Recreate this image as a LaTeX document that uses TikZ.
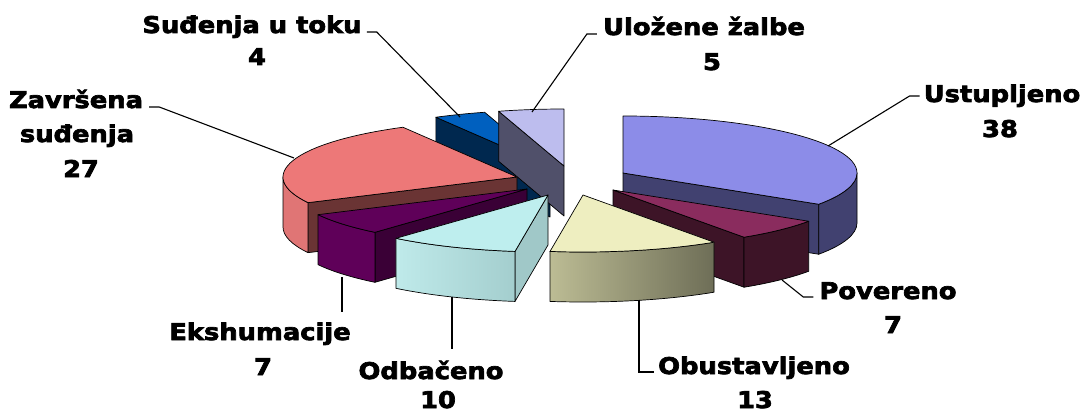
\documentclass[tikz,border=0pt]{standalone}
\usepackage{fontspec}
\usepackage{tikz}
\usetikzlibrary{positioning}
\newfontfamily\lblfont[FakeStretch=1.12, FakeBold=3]{DejaVu Sans}

\definecolor{ustTop}{HTML}{8C8CE8}
\definecolor{ustSide}{HTML}{414170}
\definecolor{povTop}{HTML}{8A2C5E}
\definecolor{povSide}{HTML}{3D1427}
\definecolor{obuTop}{HTML}{EEEEC0}
\definecolor{obuLight}{HTML}{BCBC94}
\definecolor{obuDark}{HTML}{6E6E57}
\definecolor{odbTop}{HTML}{BEEEEE}
\definecolor{odbLight}{HTML}{BFEAEA}
\definecolor{odbDark}{HTML}{9CC6C6}
\definecolor{odbFace}{HTML}{A0C8C8}
\definecolor{eksTop}{HTML}{5F0059}
\definecolor{eksFace}{HTML}{3A0036}
\definecolor{zavTop}{HTML}{ED7878}
\definecolor{zavSide}{HTML}{E07575}
\definecolor{zavFace}{HTML}{6A3434}
\definecolor{sudTop}{HTML}{0060BF}
\definecolor{sudFace}{HTML}{00284F}
\definecolor{uloTop}{HTML}{BDBDEE}
\definecolor{uloFace}{HTML}{50506A}

\tikzset{
  pie edge/.style={draw=black, line width=0.7pt, line join=round},
  pie r/.style={x radius=234, y radius=57},
  lbl/.style={font=\lblfont\bfseries\fontsize{23}{27}\selectfont, inner sep=1pt,
    text height=16pt, text depth=3pt, anchor=base},
  leader/.style={draw=black, line width=1.1pt},
}

\begin{document}
\begin{tikzpicture}[x=1pt,y=1pt]
    \useasboundingbox (0,0) rectangle (1083,413);

    % slice apexes (each slice pulled out on its own)
    \coordinate (sud-c) at (550,246);
    \coordinate (ulo-c) at (564,247);
    \coordinate (ust-c) at (623,240);
    \coordinate (zav-c) at (517,236);
    \coordinate (pov-c) at (613,223);
    \coordinate (eks-c) at (527,224);
    \coordinate (odb-c) at (548,218);
    \coordinate (obu-c) at (583,218);

    % Sudjenja u toku 4 : 119.2 .. 106.2
    \draw[pie edge, fill=sudFace] (sud-c) -- ++(119.189:234 and 57) -- ++(0,-50) -- ++(-60.811:234 and 57) -- cycle;
    \draw[pie edge, fill=sudTop] (sud-c) -- ++(119.189:234 and 57) arc[pie r, start angle=119.189, end angle=106.216] -- cycle;

    % Ulozene zalbe 5 : 106.2 .. 90
    \draw[pie edge, fill=uloFace] (ulo-c) -- ++(106.216:234 and 57) -- ++(0,-50) -- ++(-73.784:234 and 57) -- cycle;
    \draw[pie edge, fill=uloTop] (ulo-c) -- ++(106.216:234 and 57) arc[pie r, start angle=106.216, end angle=90] -- cycle;

    % Ustupljeno 38 : 90 .. -33.2
    \draw[pie edge, fill=ustSide] (ust-c) -- ++(-33.243:234 and 57) -- ++(0,-50) -- ++(146.757:234 and 57) -- cycle;
    \draw[pie edge, fill=ustSide] (ust-c) ++(-33.243:234 and 57) arc[pie r, start angle=-33.243, end angle=0] -- ++(0,-50) arc[pie r, start angle=0, end angle=-33.243] -- cycle;
    \draw[pie edge, fill=ustTop] (ust-c) -- ++(90:234 and 57) arc[pie r, start angle=90, end angle=-33.243] -- cycle;

    % Zavrsena sudjenja 27 : -153.2 .. -240.8
    \draw[pie edge, fill=zavFace] (zav-c) -- ++(-153.243:234 and 57) -- ++(0,-50) -- ++(26.757:234 and 57) -- cycle;
    \draw[pie edge, fill=zavSide] (zav-c) ++(-180:234 and 57) arc[pie r, start angle=-180, end angle=-153.243] -- ++(0,-50) arc[pie r, start angle=-153.243, end angle=-180] -- cycle;
    \draw[pie edge, fill=zavTop] (zav-c) -- ++(-153.243:234 and 57) arc[pie r, start angle=-153.243, end angle=-240.811] -- cycle;

    % Povereno 7 : -33.2 .. -55.9
    \draw[pie edge, fill=povSide] (pov-c) -- ++(-55.946:234 and 57) -- ++(0,-50) -- ++(124.054:234 and 57) -- cycle;
    \draw[pie edge, fill=povSide] (pov-c) ++(-55.946:234 and 57) arc[pie r, start angle=-55.946, end angle=-33.243] -- ++(0,-50) arc[pie r, start angle=-33.243, end angle=-55.946] -- cycle;
    \draw[pie edge, fill=povTop] (pov-c) -- ++(-33.243:234 and 57) arc[pie r, start angle=-33.243, end angle=-55.946] -- cycle;

    % Ekshumacije 7 : -130.5 .. -153.2
    \draw[pie edge, fill=eksFace] (eks-c) -- ++(-130.541:234 and 57) -- ++(0,-50) -- ++(49.459:234 and 57) -- cycle;
    \draw[pie edge, fill=eksTop] (eks-c) ++(-153.243:234 and 57) arc[pie r, start angle=-153.243, end angle=-130.541] -- ++(0,-50) arc[pie r, start angle=-130.541, end angle=-153.243] -- cycle;
    \draw[pie edge, fill=eksTop] (eks-c) -- ++(-130.541:234 and 57) arc[pie r, start angle=-130.541, end angle=-153.243] -- cycle;

    % Odbaceno 10 : -98.1 .. -130.5
    \draw[pie edge, fill=odbFace] (odb-c) -- ++(-98.108:234 and 57) -- ++(0,-50) -- ++(81.892:234 and 57) -- cycle;
    \draw[pie edge, left color=odbLight, right color=odbDark] (odb-c) ++(-130.541:234 and 57) arc[pie r, start angle=-130.541, end angle=-98.108] -- ++(0,-50) arc[pie r, start angle=-98.108, end angle=-130.541] -- cycle;
    \draw[pie edge, fill=odbTop] (odb-c) -- ++(-98.108:234 and 57) arc[pie r, start angle=-98.108, end angle=-130.541] -- cycle;

    % Obustavljeno 13 : -55.9 .. -98.1
    \draw[pie edge, left color=obuLight, right color=obuDark] (obu-c) ++(-98.108:234 and 57) arc[pie r, start angle=-98.108, end angle=-55.946] -- ++(0,-50) arc[pie r, start angle=-55.946, end angle=-98.108] -- cycle;
    \draw[pie edge, fill=obuTop] (obu-c) -- ++(-55.946:234 and 57) arc[pie r, start angle=-55.946, end angle=-98.108] -- cycle;

    % labels
    \node[lbl] (sud) at (252,380) {Suđenja u toku};
    \node[lbl] (sud-v) at (257,348) {4};
    \node[lbl] (ulo) at (704,378) {Uložene žalbe};
    \node[lbl] (ulo-v) at (712,343) {5};
    \node[lbl] (ust) at (1002,311) {Ustupljeno};
    \node[lbl] (ust-v) at (1000,276) {38};
    \node[lbl] (zav) at (76,305) {Završena};
    \node[lbl] (zav-s) at (77,271) {suđenja};
    \node[lbl] (zav-v) at (81,236) {27};
    \node[lbl] (pov) at (888,114) {Povereno};
    \node[lbl] (pov-v) at (893,80) {7};
    \node[lbl] (obu) at (754,39) {Obustavljeno};
    \node[lbl] (obu-v) at (755,5) {13};
    \node[lbl] (eks) at (260,73) {Ekshumacije};
    \node[lbl] (eks-v) at (263,38) {7};
    \node[lbl] (odb) at (431,34) {Odbačeno};
    \node[lbl] (odb-v) at (438,5) {10};

    % leader lines
    \coordinate (sud-tip) at (460,296);
    \coordinate (ulo-tip) at (532,301);
    \coordinate (ust-tip) at (828,267);
    \coordinate (zav-tip) at (294,255);
    \coordinate (pov-tip) at (782,133);
    \coordinate (obu-tip) at (639,113);
    \coordinate (eks-tip) at (342,136);
    \coordinate (odb-tip) at (452,116);
    \draw[leader] ([shift={(4,1)}]sud.base east) -- ++(10,0) -- (sud-tip);
    \draw[leader] ([shift={(-5,1)}]ulo.base west) -- ++(-10,0) -- (ulo-tip);
    \draw[leader] ([shift={(-3,6)}]ust.base west) -- ++(-10,0) -- (ust-tip);
    \draw[leader] ([shift={(5,1)}]zav.base east) -- ++(10,0) -- (zav-tip);
    \draw[leader] ([shift={(-5,2)}]pov.base west) -- ++(-10,0) -- (pov-tip);
    \draw[leader] ([shift={(-3,2)}]obu.base west) -| (obu-tip);
    \draw[leader] (eks-tip) -- ([yshift=11]eks-tip |- eks.north);
    \draw[leader] (odb-tip) -- ([yshift=13]odb-tip |- odb.north);
\end{tikzpicture}
\end{document}
